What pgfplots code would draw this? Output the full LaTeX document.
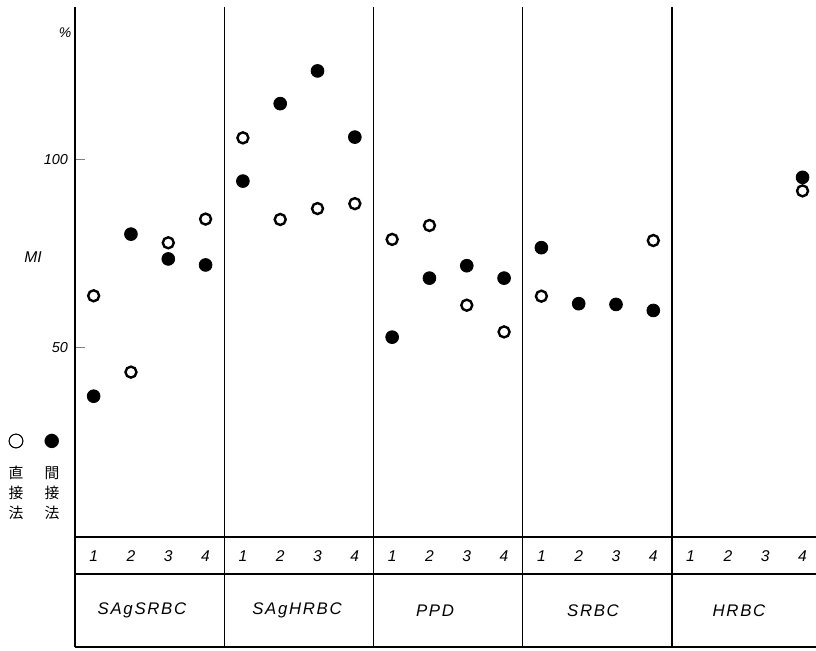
\documentclass[border=0pt]{standalone}
\usepackage{pgfplots}
\pgfplotsset{compat=1.18}
\usepackage{fontspec}
\setmainfont{Liberation Sans}
\newfontfamily\jp{Noto Sans CJK JP}
\newfontfamily\jpb[FakeBold=2.5]{Noto Sans CJK JP}
\begin{document}
\begin{tikzpicture}
\begin{axis}[
  scale only axis, width=370.5pt, height=320pt,
  xmin=0.5, xmax=20.36, ymin=-29.7, ymax=140.5,
  axis x line=none, axis y line=left,
  axis line style={-, line width=0.8pt},
  ytick={50,100}, tick align=inside, major tick length=5pt,
  major tick style={line width=0.7pt},
  yticklabel style={font=\itshape\fontsize{7.2}{8}\selectfont},
  /pgf/number format/assume math mode=true,
  clip=false,
]
% table and group dividers
\draw[line width=0.7pt] (axis cs:0.5,-0.45) -- (axis cs:20.36,-0.45);
\draw[line width=0.7pt] (axis cs:0.5,-10.3) -- (axis cs:20.36,-10.3);
\draw[line width=0.7pt] (axis cs:0.5,-29.7) -- (axis cs:20.36,-29.7);
\draw[line width=0.7pt] (axis cs:4.5,-29.7) -- (axis cs:4.5,140.5);
\draw[line width=0.7pt] (axis cs:8.5,-29.7) -- (axis cs:8.5,140.5);
\draw[line width=0.7pt] (axis cs:12.5,-29.7) -- (axis cs:12.5,140.5);
\draw[line width=0.7pt] (axis cs:16.5,-29.7) -- (axis cs:16.5,140.5);
% direct method (open)
\addplot[only marks, mark=o, mark size=2.75pt, mark options={line width=1.2pt, fill=white}]
  coordinates {(1,63.7)(2,43.4)(3,77.8)(4,84.1)(5,105.7)(6,84.0)(7,86.9)(8,88.2)
  (9,78.7)(10,82.4)(11,61.2)(12,54.1)(13,63.6)(16,78.4)(20,91.6)};
% indirect method (filled)
\addplot[only marks, mark=*, mark size=3.2pt, mark options={fill=black, draw=black}]
  coordinates {(1,37.0)(2,80.1)(3,73.5)(4,71.9)(5,94.2)(6,114.8)(7,123.5)(8,105.9)
  (9,52.7)(10,68.4)(11,71.7)(12,68.4)(13,76.5)(14,61.6)(15,61.4)(16,59.8)(20,95.2)};
\end{axis}
% row of sample numbers
\foreach \g in {0,...,4}{
  \foreach \k in {1,...,4}{
    \node[font=\itshape\fontsize{7.8}{9}\selectfont] at ({(4*\g+\k-0.5)*18.654pt},45.5pt) {\k};
  }
}
% group names
\foreach \x/\t in {33.5/SAgSRBC, 111/SAgHRBC, 180/PPD, 259/SRBC, 332/HRBC}{
  \node[font=\itshape\fontsize{8.4}{10}\selectfont\addfontfeature{LetterSpace=10}] at (\x pt,18.2pt) {\t};
}
% y label and unit
\node[font=\itshape\fontsize{7.8}{9}\selectfont] at (-21pt,195pt) {MI};
\node[font=\itshape\fontsize{7}{8}\selectfont] at (-5pt,307pt) {\%};
% legend
\node[font=\jpb\fontsize{8}{8}\selectfont] at (-29.5pt,103pt) {○};
\node[font=\jp\fontsize{8}{8}\selectfont] at (-11.5pt,103pt) {●};
\node[font=\jp\fontsize{7.4}{10}\selectfont, align=center] at (-29.5pt,77pt) {直\\接\\法};
\node[font=\jp\fontsize{7.4}{10}\selectfont, align=center] at (-11.5pt,77pt) {間\\接\\法};
\pgfresetboundingbox
\path[use as bounding box] (-37.5pt,-1.5pt) rectangle (370.5pt,323.5pt);
\end{tikzpicture}
\end{document}
